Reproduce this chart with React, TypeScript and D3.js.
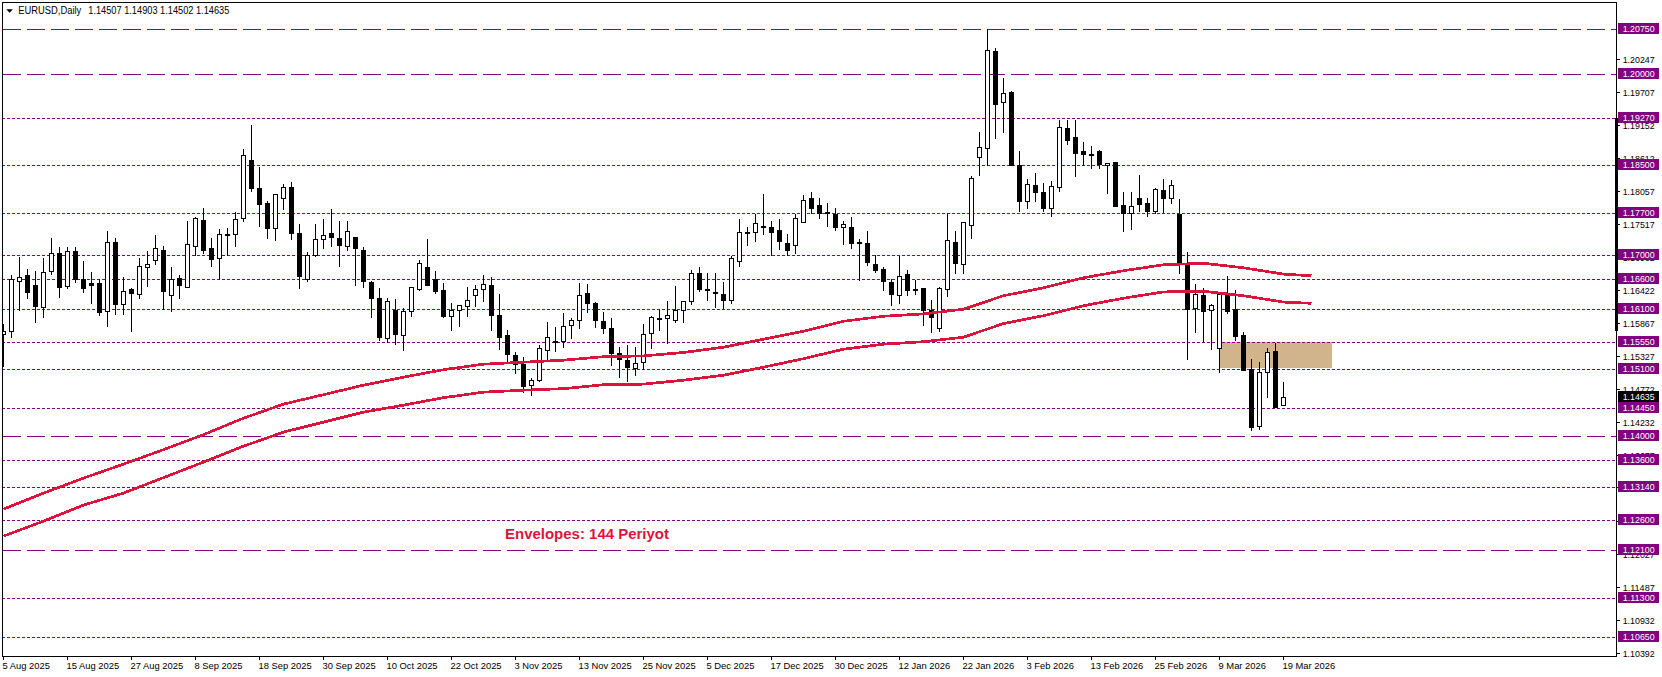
import React from "react";
import * as d3 from "d3";

const opens = [
1.15687,1.15730,1.16560,1.16671,1.16505,1.16128,1.16726,1.17031,1.16477,1.17069,
1.16600,1.16538,1.16538,1.16068,1.17214,1.16178,1.16434,1.16351,1.16799,1.16915,
1.17086,1.16334,1.16616,1.16467,1.17147,1.17579,1.17119,1.16948,1.17347,1.17347,
1.17612,1.18575,1.18110,1.17861,1.17446,1.17944,1.18127,1.17363,1.16600,1.16998,
1.17264,1.17363,1.17280,1.17147,1.17297,1.17081,1.16550,1.16284,1.15620,1.16090,
1.15667,1.16062,1.16427,1.16799,1.16600,1.16417,1.15979,1.16085,1.16145,1.16327,
1.16427,1.16500,1.16002,1.15670,1.15338,1.15194,1.14833,1.14916,1.15414,1.15570,
1.15564,1.15829,1.15919,1.16367,1.16201,1.15902,1.15786,1.15371,1.15255,1.15116,
1.15222,1.15703,1.15952,1.15946,1.15912,1.16085,1.16228,1.16699,1.16434,1.16384,
1.16351,1.16244,1.16892,1.17373,1.17373,1.17479,1.17463,1.17413,1.17197,1.17157,
1.17546,1.17944,1.17828,1.17712,1.17684,1.17456,1.17463,1.17219,1.17197,1.16849,
1.16766,1.16555,1.16334,1.16683,1.16438,1.16450,1.16085,1.15791,1.16434,1.17214,
1.16849,1.17496,1.18625,1.18774,1.20384,1.19538,1.19704,1.18492,1.17894,1.18160,
1.18044,1.17772,1.18127,1.19106,1.18957,1.18724,1.18675,1.18724,1.18492,1.18542,
1.17833,1.17705,1.17944,1.17861,1.17722,1.18077,1.17938,1.17684,1.16854,1.16112,
1.16339,1.16085,1.15448,1.16339,1.16102,1.15670,1.15106,1.14164,1.15056,1.15409,1.14507];

const highs = [
1.15874,1.16688,1.16986,1.16782,1.16754,1.16970,1.17302,1.17152,1.17152,1.17152,
1.16920,1.16737,1.16616,1.17418,1.17302,1.16649,1.16467,1.16970,1.17086,1.17352,
1.17164,1.16820,1.16688,1.17584,1.17650,1.17795,1.17302,1.17446,1.17463,1.17733,
1.18774,1.19173,1.18480,1.17911,1.18011,1.18198,1.18226,1.17529,1.17064,1.17529,
1.17612,1.17778,1.17584,1.17584,1.17297,1.17141,1.16588,1.16467,1.16301,1.16284,
1.16135,1.16467,1.16932,1.17280,1.16754,1.16550,1.16223,1.16178,1.16488,1.16522,
1.16688,1.16654,1.16372,1.15775,1.15404,1.15321,1.14978,1.15526,1.15907,1.15824,
1.16057,1.15969,1.16555,1.16538,1.16239,1.16073,1.15974,1.15492,1.15526,1.15492,
1.15863,1.16002,1.16123,1.16256,1.16505,1.16251,1.16771,1.16820,1.16721,1.16721,
1.16571,1.17003,1.17612,1.17484,1.17695,1.18032,1.17579,1.17612,1.17363,1.17695,
1.18016,1.18065,1.17961,1.17883,1.17800,1.17579,1.17650,1.17285,1.17418,1.17020,
1.16820,1.16616,1.16991,1.16771,1.16600,1.16467,1.16268,1.16483,1.17695,1.17413,
1.17546,1.18326,1.19056,1.20766,1.20451,1.19958,1.19737,1.18741,1.18276,1.18376,
1.18210,1.18243,1.19266,1.19266,1.19256,1.18890,1.18824,1.18758,1.18525,1.18558,
1.18065,1.18065,1.18348,1.17966,1.18132,1.18281,1.18265,1.17944,1.17069,1.16533,
1.16472,1.16206,1.16351,1.16671,1.16438,1.15741,1.15293,1.15243,1.15476,1.15559,1.14903];

const lows = [
1.15160,1.15630,1.16090,1.16278,1.15879,1.15962,1.16688,1.16294,1.16444,1.16543,
1.16377,1.16195,1.15995,1.15813,1.16012,1.16012,1.15730,1.16278,1.16488,1.16842,
1.16107,1.16062,1.16278,1.16467,1.17003,1.17025,1.16809,1.16600,1.16998,1.17141,
1.17556,1.18070,1.17489,1.17274,1.17240,1.17767,1.17257,1.16444,1.16560,1.16975,
1.17108,1.17141,1.16809,1.17074,1.16493,1.16467,1.15962,1.15592,1.15559,1.15526,
1.15414,1.15990,1.16410,1.16493,1.16361,1.15962,1.15746,1.15824,1.15990,1.16156,
1.16239,1.15758,1.15443,1.15222,1.15033,1.14717,1.14667,1.14900,1.15277,1.15398,
1.15464,1.15614,1.15780,1.16045,1.15796,1.15697,1.15165,1.14966,1.14900,1.14999,
1.15099,1.15448,1.15746,1.15531,1.15879,1.15891,1.16178,1.16394,1.16256,1.16140,
1.16123,1.16195,1.16809,1.17169,1.17235,1.17340,1.17003,1.17103,1.17003,1.17036,
1.17546,1.17705,1.17606,1.17473,1.17418,1.17186,1.17119,1.16576,1.16825,1.16709,
1.16410,1.16161,1.16195,1.16327,1.16344,1.15841,1.15725,1.15741,1.16311,1.16704,
1.16693,1.17274,1.18336,1.18492,1.18950,1.19050,1.18492,1.17738,1.17788,1.17888,
1.17738,1.17639,1.18070,1.18851,1.18319,1.18492,1.18452,1.18447,1.18032,1.17805,
1.17406,1.17423,1.17722,1.17639,1.17705,1.17717,1.17871,1.16704,1.15277,1.15725,
1.15575,1.15443,1.15049,1.16040,1.15592,1.15082,1.14098,1.14115,1.14646,1.14480,1.14502];

const closes = [
1.15730,1.16600,1.16633,1.16389,1.16145,1.16716,1.17031,1.16460,1.17064,1.16600,
1.16444,1.16493,1.16045,1.17214,1.16178,1.16400,1.16361,1.16815,1.16849,1.17114,
1.16394,1.16600,1.16493,1.17181,1.17612,1.17074,1.16925,1.17347,1.17323,1.17596,
1.18658,1.18120,1.17845,1.17440,1.18011,1.18127,1.17357,1.16643,1.16998,1.17264,
1.17330,1.17290,1.17157,1.17396,1.17108,1.16560,1.16284,1.15630,1.16234,1.15687,
1.16068,1.16467,1.16865,1.16493,1.16394,1.15979,1.16090,1.16168,1.16251,1.16434,
1.16517,1.15995,1.15630,1.15348,1.15194,1.14817,1.14923,1.15454,1.15637,1.15547,
1.15819,1.15919,1.16334,1.16195,1.15912,1.15780,1.15365,1.15272,1.15132,1.15199,
1.15687,1.15969,1.15929,1.16002,1.16085,1.16234,1.16699,1.16427,1.16417,1.16361,
1.16244,1.16948,1.17380,1.17385,1.17529,1.17456,1.17385,1.17224,1.17074,1.17612,
1.17911,1.17772,1.17705,1.17700,1.17456,1.17513,1.17191,1.17207,1.16875,1.16742,
1.16560,1.16344,1.16649,1.16410,1.16422,1.16085,1.15974,1.16450,1.17247,1.16859,
1.17546,1.18276,1.18791,1.20401,1.19515,1.19687,1.18492,1.17888,1.18177,1.18044,
1.17772,1.18143,1.19133,1.18917,1.18701,1.18685,1.18658,1.18509,1.18525,1.17821,
1.17689,1.17811,1.17838,1.17722,1.18094,1.17954,1.18160,1.16887,1.16107,1.16351,
1.16062,1.16168,1.16351,1.16062,1.15647,1.15082,1.14148,1.15056,1.15388,1.14480,1.14635];

const envelopeBars = [0,5,10,15,20,25,30,35,40,45,50,55,60,65,70,75,80,85,90,95,100,105,110,115,120,125,130,135,140,145,150,155,160,163.5];
const envelopeUpper = [1.12787,1.13052,1.13301,1.13534,1.13774,1.14023,1.14297,1.14530,1.14687,1.14845,1.14978,1.15102,1.15194,1.15227,1.15260,1.15318,1.15331,1.15388,1.15476,1.15609,1.15741,1.15907,1.15990,1.16029,1.16107,1.16331,1.16463,1.16629,1.16746,1.16845,1.16870,1.16795,1.16690,1.16662];
const envelopeLower = [1.12338,1.12587,1.12853,1.13052,1.13309,1.13567,1.13832,1.14065,1.14231,1.14397,1.14513,1.14637,1.14729,1.14762,1.14787,1.14853,1.14862,1.14928,1.15011,1.15144,1.15285,1.15443,1.15526,1.15567,1.15642,1.15869,1.15999,1.16165,1.16289,1.16394,1.16405,1.16331,1.16225,1.16205];

const dateLabels = ["5 Aug 2025","15 Aug 2025","27 Aug 2025","8 Sep 2025","18 Sep 2025","30 Sep 2025","10 Oct 2025","22 Oct 2025","3 Nov 2025","13 Nov 2025","25 Nov 2025","5 Dec 2025","17 Dec 2025","30 Dec 2025","12 Jan 2026","22 Jan 2026","3 Feb 2026","13 Feb 2026","25 Feb 2026","9 Mar 2026","19 Mar 2026"];
const dateLabelStep = 8;

const priceTicks = [1.20247,1.19707,1.19152,1.18612,1.18057,1.17517,1.16962,1.16422,1.15867,1.15327,1.14772,1.14232,1.13677,1.13137,1.12582,1.12027,1.11487,1.10932,1.10392];
const dottedLevels = [1.1927,1.185,1.177,1.17,1.166,1.161,1.1555,1.151,1.1445,1.136,1.1314,1.126,1.113,1.1065];
const dashedLevels = [1.2075,1.2,1.14,1.121];
const lastPrice = 1.14635;

const zoneHigh = 1.15559;
const zoneLow = 1.15127;
const zoneStartBar = 152;
const zoneEndBar = 166.1;

const W = 1662, H = 677;
const L = 2, R = 1616, T = 2, B = 656;
const FONT = "'Liberation Sans', Arial, sans-serif";
const PURPLE = "#800080";
const RED = "#DC143C";

const x = d3.scaleLinear().domain([0, 160]).range([3.5, 1283.5]);
const y = d3.scaleLinear().domain([1.2075, 1.1065]).range([29.7, 637.7]);
const row = (p: number) => Math.floor(y(p)) + 0.5;
const fmt = d3.format(".5f");

const line = d3.line<number>().x((_, i) => x(envelopeBars[i])).y((d) => y(d));

const PriceLabel = ({ value, fill }: { value: number; fill: string }) => {
  const r = Math.floor(y(value));
  return (
    <g>
      <rect x={1618} y={r - 6} width={41} height={11} fill={fill} />
      <text x={1622.7} y={r + 3} fill="#fff" fontFamily={FONT} fontSize={9.8} textLength={32} lengthAdjust="spacingAndGlyphs">{fmt(value)}</text>
    </g>
  );
};

export default function App() {
  const candles = opens.map((o, i) => ({ i, o, h: highs[i], l: lows[i], c: closes[i] }));
  return (
    <svg width={W} height={H} viewBox={`0 0 ${W} ${H}`} style={{ position: "absolute", left: 0, top: 0, display: "block", background: "#fff" }}>
      <defs>
        <clipPath id="plot"><rect x={L} y={T} width={R - L} height={B - T} /></clipPath>
      </defs>
      <g clipPath="url(#plot)">
        <rect x={Math.floor(x(zoneStartBar))} y={Math.floor(y(zoneHigh))} width={x(zoneEndBar) - x(zoneStartBar)} height={y(zoneLow) - y(zoneHigh)} fill="#D2B48C" shapeRendering="crispEdges" />
        <g shapeRendering="crispEdges" stroke={PURPLE} strokeWidth={1}>
          {dottedLevels.map((p) => <line key={p} x1={L} x2={R} y1={row(p)} y2={row(p)} strokeDasharray="3 2" />)}
          {dashedLevels.map((p) => <line key={p} x1={L + 1} x2={R} y1={row(p)} y2={row(p)} strokeDasharray="18 6" />)}
        </g>
        <g shapeRendering="crispEdges">
          {candles.map((d) => {
            const cx = x(d.i);
            const up = d.c >= d.o;
            const top = row(Math.max(d.o, d.c));
            const bot = row(Math.min(d.o, d.c));
            return (
              <g key={d.i}>
                <line x1={cx} x2={cx} y1={row(d.h)} y2={row(d.l)} stroke="#000" />
                <rect x={cx - 2} y={top} width={4} height={Math.max(bot - top, 1)} fill={up ? "#fff" : "#000"} stroke="#000" />
              </g>
            );
          })}
        </g>
        <path d={line(envelopeUpper) || ""} fill="none" stroke={RED} strokeWidth={2.7} shapeRendering="crispEdges" />
        <path d={line(envelopeLower) || ""} fill="none" stroke={RED} strokeWidth={2.7} shapeRendering="crispEdges" />
      </g>

      <text x={505} y={538.5} fill={RED} fontFamily={FONT} fontWeight={700} fontSize={14} textLength={164} lengthAdjust="spacingAndGlyphs">Envelopes: 144 Periyot</text>

      <path d="M6.3 9.3 L12.9 9.3 L9.6 12.8 Z" fill="#000" />
      <text x={18.3} y={14} fill="#000" fontFamily={FONT} fontSize={10} textLength={63} lengthAdjust="spacingAndGlyphs">EURUSD,Daily</text>
      <text x={88.3} y={14} fill="#000" fontFamily={FONT} fontSize={10} textLength={141} lengthAdjust="spacingAndGlyphs">1.14507 1.14903 1.14502 1.14635</text>

      <g shapeRendering="crispEdges" stroke="#000" fill="none">
        <rect x={L + 0.5} y={T + 0.5} width={R - L} height={B - T} />
      </g>
      <rect x={1615} y={117.7} width={3} height={213} fill="#000" shapeRendering="crispEdges" />

      {priceTicks.map((p) => (
        <g key={p}>
          <line x1={R} x2={R + 4} y1={row(p)} y2={row(p)} stroke="#000" shapeRendering="crispEdges" />
          <text x={1622.7} y={Math.floor(y(p)) + 4} fill="#000" fontFamily={FONT} fontSize={9.8} textLength={32} lengthAdjust="spacingAndGlyphs">{fmt(p)}</text>
        </g>
      ))}
      {dateLabels.map((t, i) => {
        const tx = x(i * dateLabelStep);
        return (
          <g key={t}>
            <line x1={tx} x2={tx} y1={B} y2={B + 4} stroke="#000" shapeRendering="crispEdges" />
            <text x={tx - 1} y={669} fill="#000" fontFamily={FONT} fontSize={9.4}>{t}</text>
          </g>
        );
      })}
      {dottedLevels.concat(dashedLevels).map((p) => <PriceLabel key={p} value={p} fill={PURPLE} />)}
      <PriceLabel value={lastPrice} fill="#000" />
    </svg>
  );
}
